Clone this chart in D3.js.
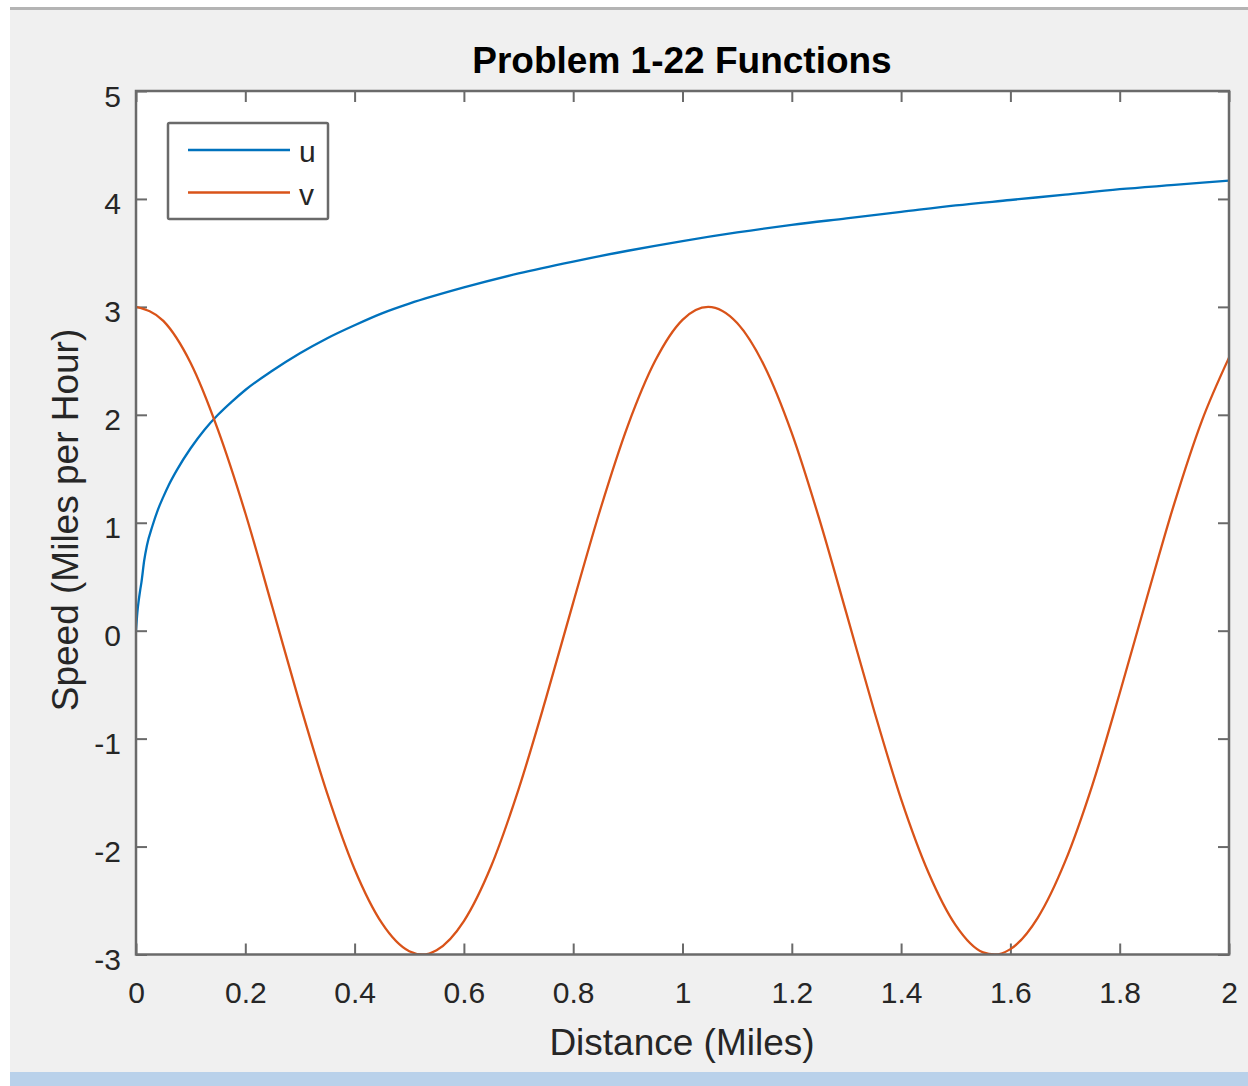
<!DOCTYPE html>
<meta charset="utf-8">
<style>
body {margin: 0; background: #fff;}
text {font-family: "Liberation Sans", Arial, sans-serif; fill: #262626;}
.tick line {stroke: #6a6a6a; stroke-width: 2;}
.tick text {font-size: 30px;}
</style>
<body>
<script src="https://d3js.org/d3.v7.min.js"></script>
<div id="chart"></div>
</body>
<script>
// data
var title = "Problem 1-22 Functions",
    xLabel = "Distance (Miles)",
    yLabel = "Speed (Miles per Hour)";
var xTicks = [0, 0.2, 0.4, 0.6, 0.8, 1, 1.2, 1.4, 1.6, 1.8, 2];
var yTicks = [-3, -2, -1, 0, 1, 2, 3, 4, 5];
var seriesNames = ["u", "v"];

var uX = [0, 0.0025, 0.005, 0.0075, 0.01, 0.015, 0.02, 0.03, 0.04, 0.05, 0.06, 0.075, 0.1, 0.125,
          0.15, 0.175, 0.2, 0.25, 0.3, 0.35, 0.4, 0.45, 0.5, 0.6, 0.7, 0.8, 0.9, 1.0,
          1.1, 1.2, 1.3, 1.4, 1.5, 1.6, 1.7, 1.8, 1.9, 2.0];
var uY = [0, 0.17, 0.28, 0.37, 0.45, 0.65, 0.79, 0.97, 1.12, 1.24, 1.35, 1.49, 1.69, 1.86,
          2.00, 2.12, 2.23, 2.41, 2.57, 2.71, 2.83, 2.94, 3.03, 3.18, 3.31, 3.42, 3.52, 3.61,
          3.69, 3.76, 3.82, 3.88, 3.94, 3.99, 4.04, 4.09, 4.13, 4.17];

var vX = [0, 0.05, 0.1, 0.15, 0.2, 0.25, 0.3, 0.35, 0.4, 0.45, 0.5, 0.524, 0.55, 0.6, 0.65, 0.7,
          0.75, 0.8, 0.85, 0.9, 0.95, 1.0, 1.047, 1.1, 1.15, 1.2, 1.25, 1.3, 1.35, 1.4, 1.45,
          1.5, 1.55, 1.571, 1.6, 1.65, 1.7, 1.75, 1.8, 1.85, 1.9, 1.95, 2.0];
var vY = [3, 2.87, 2.48, 1.86, 1.09, 0.21, -0.68, -1.51, -2.21, -2.71, -2.97, -3, -2.96, -2.69, -2.18, -1.47,
          -0.63, 0.26, 1.13, 1.90, 2.50, 2.88, 3, 2.85, 2.45, 1.83, 1.04, 0.16, -0.73, -1.56, -2.24,
          -2.73, -2.98, -3, -2.95, -2.66, -2.14, -1.43, -0.58, 0.31, 1.18, 1.94, 2.53];

// setup
var W = 1248, H = 1086;
var pLeft = 136, pRight = 1229, pTop = 91, pBottom = 954.5;
var colors = ["#0072bd", "#d95319"];

var svg = d3.select("#chart").append("svg")
    .attr("width", W)
    .attr("height", H);

// figure background
svg.append("rect").attr("x", 10).attr("y", 8).attr("width", W - 10).attr("height", H - 8)
    .attr("fill", "#f0f0f0");
svg.append("line").attr("x1", 10).attr("x2", W).attr("y1", 8.5).attr("y2", 8.5)
    .attr("stroke", "#b4b4b4").attr("stroke-width", 3);
svg.append("rect").attr("x", 10).attr("y", 1072).attr("width", W - 10).attr("height", H - 1072)
    .attr("fill", "#b9d1ea");

var x = d3.scaleLinear().domain([0, 2]).range([pLeft, pRight]);
var y = d3.scaleLinear().domain([-3, 5]).range([pBottom, pTop]);

// axes box
svg.append("rect")
    .attr("x", pLeft).attr("y", pTop)
    .attr("width", pRight - pLeft).attr("height", pBottom - pTop)
    .attr("fill", "#fff");

svg.append("clipPath").attr("id", "clip").append("rect")
    .attr("x", pLeft).attr("y", pTop)
    .attr("width", pRight - pLeft).attr("height", pBottom - pTop);

// plain hyphen minus, like the original
var fmt = function(d) { return String(Math.round(d * 10) / 10); };

var gx = svg.append("g").attr("transform", "translate(0," + pBottom + ")")
    .call(d3.axisBottom(x).tickValues(xTicks).tickFormat(fmt).tickSizeInner(-11).tickSizeOuter(0));
gx.selectAll(".tick text").attr("y", 0).attr("dy", 48.5);

var gy = svg.append("g").attr("transform", "translate(" + pLeft + ",0)")
    .call(d3.axisLeft(y).tickValues(yTicks).tickFormat(fmt).tickSizeInner(-11).tickSizeOuter(0).tickPadding(15));
gy.selectAll(".tick text").attr("dy", 15);

svg.append("g").attr("transform", "translate(0," + pTop + ")")
    .call(d3.axisTop(x).tickValues(xTicks).tickFormat("").tickSizeInner(-11).tickSizeOuter(0));
svg.append("g").attr("transform", "translate(" + pRight + ",0)")
    .call(d3.axisRight(y).tickValues(yTicks).tickFormat("").tickSizeInner(-11).tickSizeOuter(0));
svg.selectAll(".domain").remove();

// lines
var series = [
  d3.zip(uX, uY),
  d3.zip(vX, vY)
];
var line = d3.line()
    .x(function(d) { return x(d[0]); })
    .y(function(d) { return y(d[1]); })
    .curve(d3.curveMonotoneX);

svg.append("g").attr("clip-path", "url(#clip)")
  .selectAll("path").data(series).enter().append("path")
    .attr("d", line)
    .attr("fill", "none")
    .attr("stroke", function(d, i) { return colors[i]; })
    .attr("stroke-width", 2.3);

svg.append("rect")
    .attr("x", pLeft).attr("y", pTop)
    .attr("width", pRight - pLeft).attr("height", pBottom - pTop)
    .attr("fill", "none").attr("stroke", "#6a6a6a").attr("stroke-width", 2.5);

// legend
var lg = svg.append("g");
lg.append("rect").attr("x", 168).attr("y", 123).attr("width", 160).attr("height", 96)
    .attr("fill", "#fff").attr("stroke", "#6a6a6a").attr("stroke-width", 2.5).attr("rx", 1.5);
seriesNames.forEach(function(n, i) {
  var ly = 150 + i * 42.5;
  lg.append("line").attr("x1", 188).attr("x2", 290).attr("y1", ly).attr("y2", ly)
    .attr("stroke", colors[i]).attr("stroke-width", 2.3);
  lg.append("text").attr("x", 299).attr("y", ly + 12).style("font-size", "30px").text(n);
});

// labels
svg.append("text").attr("x", 682).attr("y", 73).attr("text-anchor", "middle")
    .style("font-size", "37px").style("font-weight", "bold").style("fill", "#000")
    .text(title);
svg.append("text").attr("x", 682).attr("y", 1055).attr("text-anchor", "middle")
    .style("font-size", "37px").text(xLabel);
svg.append("text").attr("transform", "translate(78,520) rotate(-90)").attr("text-anchor", "middle")
    .style("font-size", "37px").text(yLabel);
</script>
